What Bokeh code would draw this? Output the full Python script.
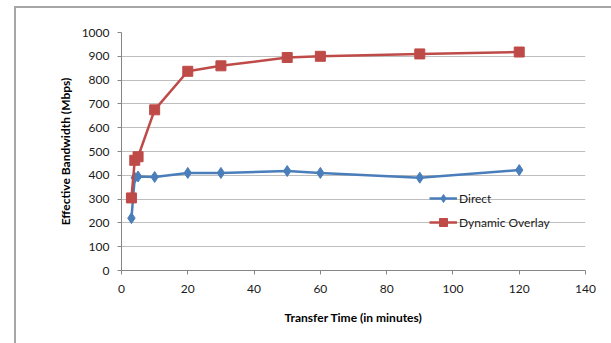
from bokeh.plotting import figure
from bokeh.models import Legend, LegendItem, FixedTicker, InlineStyleSheet
from bokeh.embed import file_html
from bokeh.resources import INLINE

minutes = [3, 4, 5, 10, 20, 30, 50, 60, 90, 120]
direct = [220, 390, 395, 393, 410, 410, 418, 410, 390, 422]
overlay = [305, 463, 478, 675, 837, 860, 895, 900, 910, 918]
x_ticks = [0, 20, 40, 60, 80, 100, 120, 140]
y_ticks = [0, 100, 200, 300, 400, 500, 600, 700, 800, 900, 1000]

FONT = "Lato"
BLUE = "#4A7EBB"
RED = "#BE4B48"

p = figure(width=611, height=343, output_backend="svg", toolbar_location=None,
           x_range=(0, 140), y_range=(0, 1000),
           min_border_left=121, min_border_right=26, min_border_top=32, min_border_bottom=73)
p.outline_line_color = None
p.background_fill_color = "white"
p.border_fill_color = "white"

p.xaxis.ticker = FixedTicker(ticks=x_ticks)
p.yaxis.ticker = FixedTicker(ticks=y_ticks)
p.xgrid.grid_line_color = None
p.ygrid.grid_line_color = "#BEBEBE"
p.ygrid.grid_line_width = 1

for ax in (p.xaxis, p.yaxis):
    ax.axis_line_color = "#868686"
    ax.major_tick_line_color = "#868686"
    ax.minor_tick_line_color = None
    ax.major_tick_in = 0
    ax.major_tick_out = 4
    ax.major_label_text_font = FONT
    ax.major_label_text_font_size = "12px"
    ax.major_label_text_color = "#1a1a1a"
    ax.axis_label_text_font = FONT
    ax.axis_label_text_font_size = "12px"
    ax.axis_label_text_font_style = "bold"
    ax.axis_label_text_color = "#000000"

p.xaxis.axis_label = "Transfer Time (in minutes)"
p.yaxis.axis_label = "Effective Bandwidth (Mbps)"
p.xaxis.major_label_standoff = 10
p.xaxis.axis_label_standoff = 14
p.yaxis.major_label_standoff = 8
p.yaxis.axis_label_standoff = 6

l1 = p.line(minutes, direct, line_color=BLUE, line_width=2.5)
s1 = p.scatter(minutes, direct, marker="diamond", size=11, fill_color=BLUE, line_color=BLUE)
l2 = p.line(minutes, overlay, line_color=RED, line_width=2.5)
s2 = p.scatter(minutes, overlay, marker="square", size=10, fill_color=RED, line_color=RED)

legend = Legend(items=[LegendItem(label="Direct", renderers=[l1, s1]),
                       LegendItem(label="Dynamic Overlay", renderers=[l2, s2])],
                location=(308, 38), glyph_width=28, glyph_height=20, spacing=4,
                label_standoff=2, padding=4, margin=0,
                background_fill_alpha=0, border_line_color=None,
                label_text_font=FONT, label_text_font_size="12px", label_text_color="#1a1a1a")
p.add_layout(legend, "center")

p.stylesheets = [InlineStyleSheet(css="""
:host { position: relative; }
:host::after {
  content: '';
  position: absolute;
  left: 14px; top: 6px; right: -20px; bottom: -20px;
  border-left: 2px solid #A6A6A6;
  border-top: 2px solid #A6A6A6;
  pointer-events: none;
}
""")]

open("out.html", "w").write(file_html(p, INLINE))
